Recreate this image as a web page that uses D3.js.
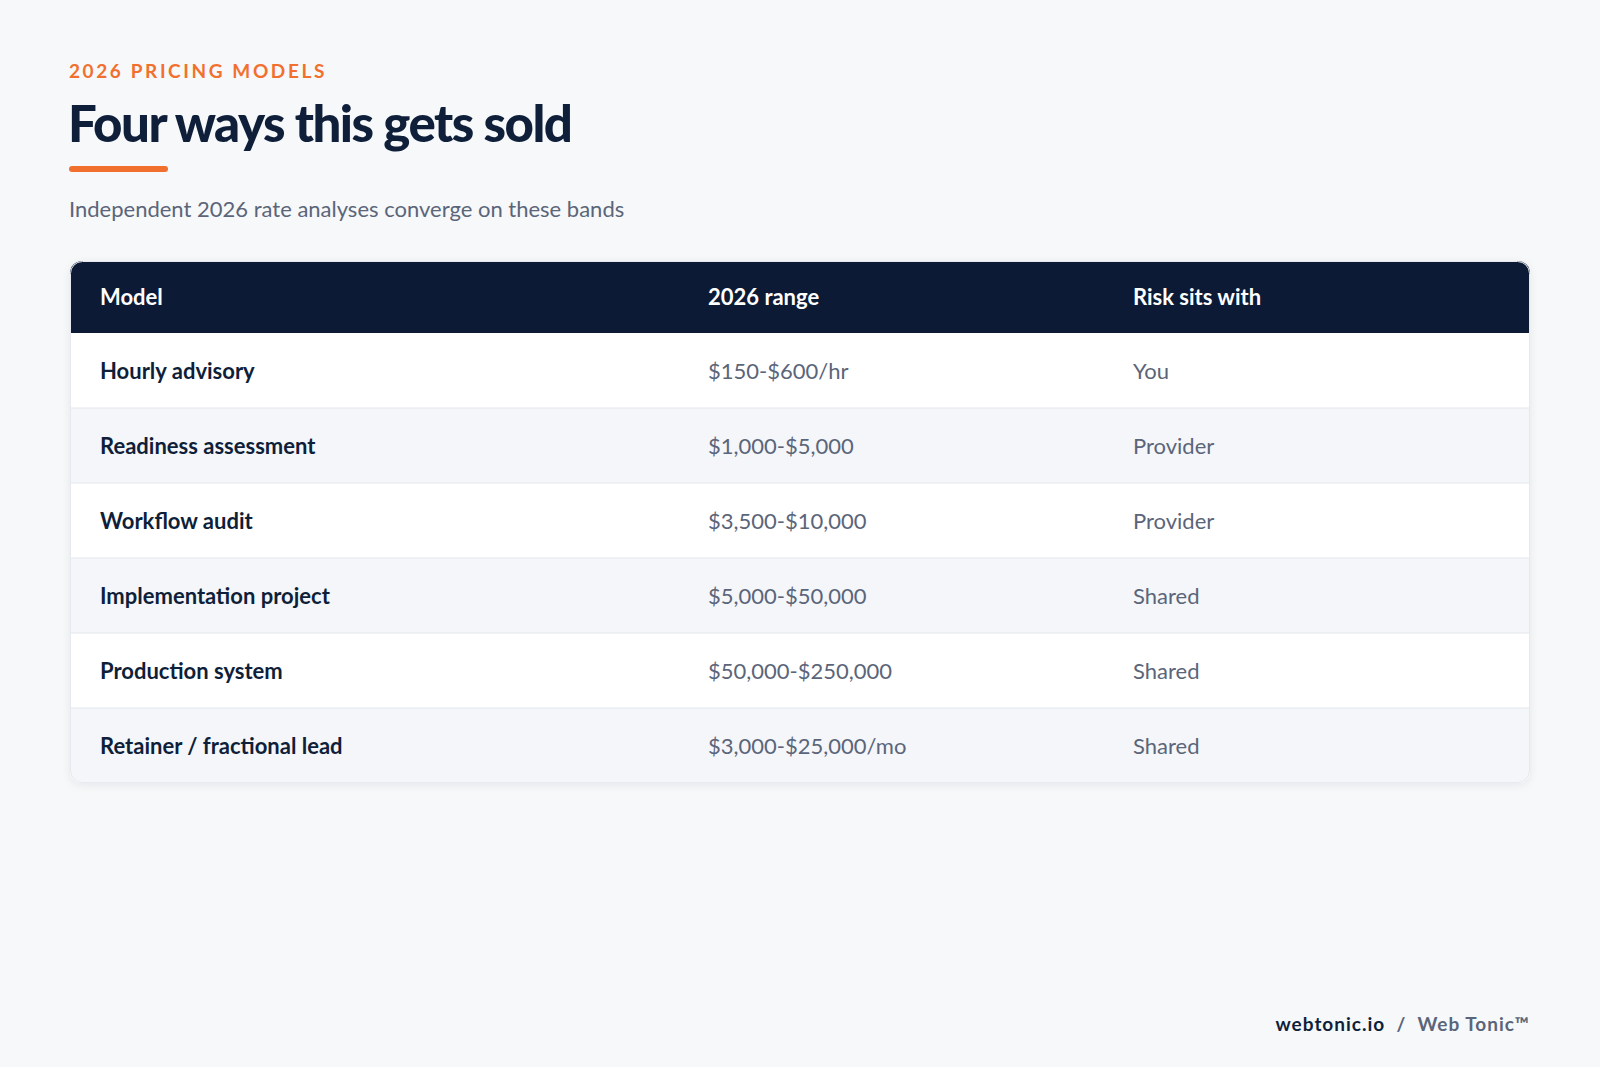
<!DOCTYPE html>
<html><head><meta charset="utf-8">
<script src="https://cdn.jsdelivr.net/npm/d3@7"></script>
<style>body{margin:0;background:#f6f8fa}svg{display:block}</style>
</head><body><svg id="c" width="1600" height="1067"></svg>
<script>
// table content
const columns = ['Model', '2026 range', 'Risk sits with']
const models = ['Hourly advisory', 'Readiness assessment', 'Workflow audit', 'Implementation project', 'Production system', 'Retainer / fractional lead']
const ranges = ['$150-$600/hr', '$1,000-$5,000', '$3,500-$10,000', '$5,000-$50,000', '$50,000-$250,000', '$3,000-$25,000/mo']
const risk = ['You', 'Provider', 'Provider', 'Shared', 'Shared', 'Shared']

const rows = models.map((m, i) => ({ model: m, range: ranges[i], risk: risk[i] }))
const font = 'Lato, "Open Sans", sans-serif'
const svg = d3.select('#c')

const defs = svg.append('defs')
const f = defs.append('filter').attr('id', 'sh').attr('x', '-5%').attr('y', '-5%').attr('width', '110%').attr('height', '115%')
f.append('feDropShadow').attr('dx', 0).attr('dy', 2).attr('stdDeviation', 4).attr('flood-color', '#0c1a36').attr('flood-opacity', 0.07)
defs.append('clipPath').attr('id', 'cl').append('rect')
    .attr('x', 70).attr('y', 261).attr('width', 1460).attr('height', 522).attr('rx', 12)

svg.append('text').text('2026 PRICING MODELS')
    .attr('x', 69).attr('y', 78).attr('font-family', font).attr('font-weight', 700)
    .attr('font-size', 19).attr('letter-spacing', 2.6).attr('fill', '#f2702e')
svg.append('text').text('Four ways this gets sold')
    .attr('x', 68).attr('y', 142).attr('font-family', font).attr('font-weight', 900)
    .attr('font-size', 51).attr('letter-spacing', -1.5).attr('fill', '#0f1f3a')
svg.append('rect').attr('x', 69).attr('y', 166).attr('width', 99).attr('height', 6).attr('rx', 3).attr('fill', '#f2702e')
svg.append('text').text('Independent 2026 rate analyses converge on these bands')
    .attr('x', 69).attr('y', 217).attr('font-family', font).attr('font-size', 22).attr('fill', '#5b6579')

const y = d3.scaleBand().domain(d3.range(rows.length)).range([333, 783])
const x = d3.scaleOrdinal().domain(columns).range([100, 708, 1133])

svg.append('rect').attr('x', 70).attr('y', 261).attr('width', 1460).attr('height', 522).attr('rx', 12)
    .attr('fill', '#fff').attr('filter', 'url(#sh)')
const t = svg.append('g').attr('clip-path', 'url(#cl)')
t.append('rect').attr('x', 70).attr('y', 261).attr('width', 1460).attr('height', 72).attr('fill', '#0c1a36')
t.selectAll('.h').data(columns).join('text')
    .text(d => d).attr('x', d => x(d)).attr('y', 305)
    .attr('font-family', font).attr('font-weight', 700).attr('font-size', 22).attr('fill', '#fff')

const r = t.selectAll('.r').data(rows).join('g').attr('transform', (d, i) => `translate(0,${y(i)})`)
r.append('rect').attr('x', 70).attr('width', 1460).attr('height', y.bandwidth())
    .attr('fill', (d, i) => i % 2 ? '#f4f6f9' : '#fff')
r.filter((d, i) => i > 0).append('line').attr('x1', 70).attr('x2', 1530)
    .attr('stroke', '#e3e7ec').attr('stroke-width', 1)
const ty = y.bandwidth() / 2 + 8
r.append('text').text(d => d.model).attr('x', x(columns[0])).attr('y', ty)
    .attr('font-family', font).attr('font-weight', 700).attr('font-size', 22).attr('fill', '#0f1f3a')
r.append('text').text(d => d.range).attr('x', x(columns[1])).attr('y', ty)
    .attr('font-family', font).attr('font-size', 22).attr('fill', '#5b6579')
r.append('text').text(d => d.risk).attr('x', x(columns[2])).attr('y', ty)
    .attr('font-family', font).attr('font-size', 22).attr('fill', '#5b6579')
svg.append('rect').attr('x', 70.5).attr('y', 261.5).attr('width', 1459).attr('height', 521).attr('rx', 12)
    .attr('fill', 'none').attr('stroke', '#e6e9ee')

const foot = svg.append('text').attr('x', 1530).attr('y', 1031).attr('text-anchor', 'end')
    .attr('font-family', font).attr('font-weight', 700).attr('font-size', 19).attr('letter-spacing', 1)
foot.append('tspan').text('webtonic.io').attr('fill', '#0f1f3a')
foot.append('tspan').text('  /  ').attr('fill', '#5b6579').attr('xml:space', 'preserve')
foot.append('tspan').text('Web Tonic™').attr('fill', '#5b6579')
</script></body></html>
